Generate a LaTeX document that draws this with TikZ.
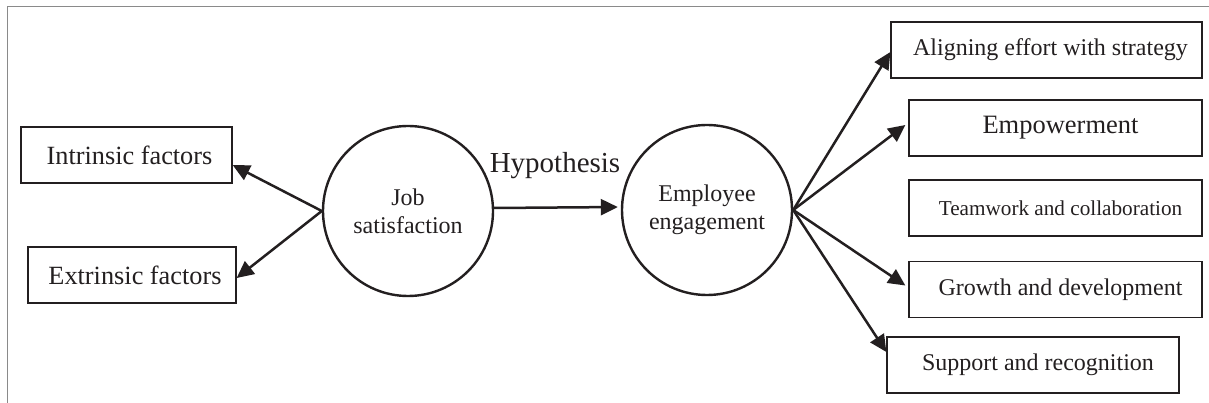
\documentclass[tikz,border=0pt]{standalone}
\usepackage{fontspec}
\setmainfont{Liberation Serif}
\usetikzlibrary{arrows.meta}
\definecolor{ink}{HTML}{231F20}
\definecolor{framegray}{HTML}{8A8A8A}
\tikzset{
  box/.style={draw=ink, line width=1.3pt, rectangle, inner sep=0pt, minimum height=56pt, text=ink, font=\fontsize{24}{28}\selectfont},
  circ/.style={draw=ink, line width=2.4pt, circle, inner sep=0pt, minimum size=170pt, align=center, text=ink, font=\fontsize{24}{28}\selectfont},
  arr/.style={draw=ink, line width=2.5pt, -{Triangle[length=17pt,width=16pt]}},
}
\begin{document}
\begin{tikzpicture}[x=1pt,y=-1pt]
\useasboundingbox (0,0) rectangle (1209,403);
\draw[framegray, line width=1pt] (7,403) -- (7,7) -- (1209,7);
% left boxes
\node[box, minimum width=211pt, font=\fontsize{26.3}{30}\selectfont] (intr) at (126.5,155) {\hspace*{6pt}Intrinsic factors};
\node[box, minimum width=208pt, font=\fontsize{26.3}{30}\selectfont] (extr) at (132,275) {\hspace*{6pt}Extrinsic factors};
% circles
\node[circ] (js) at (408,211) {Job\\satisfaction};
\node[circ] (ee) at (707,210) {Employee\\engagement};
\node[text=ink, font=\fontsize{29}{33}\selectfont, inner sep=0pt] (hyp) at (555,166) {Hypothesis};
% right boxes
\node[box, minimum width=311pt] (align) at (1046.5,50) {\hspace*{8pt}Aligning effort with strategy};
\node[box, minimum width=293pt, font=\fontsize{26.5}{30}\selectfont] (emp) at (1055.5,128) {\hspace*{10pt}Empowerment};
\node[box, minimum width=293pt, font=\fontsize{21.2}{25}\selectfont] (team) at (1055.5,208) {\hspace*{10pt}Teamwork and collaboration};
\node[box, minimum width=293pt] (grow) at (1055.5,289.5) {\hspace*{10pt}Growth and development};
\node[box, minimum width=292pt] (sup) at (1033,365) {\hspace*{10pt}Support and recognition};
% connectors
\draw[arr] (js.west) -- ([yshift=-10pt]intr.east);
\draw[arr] (js.west) -- ([yshift=-3pt]extr.east);
\draw[arr, shorten >=3pt] ([yshift=3pt]js.east) -- ([yshift=3pt]ee.west);
\draw[arr] (ee.east) -- ([yshift=-2pt]align.west);
\draw[arr] (ee.east) -- ([xshift=-3pt,yshift=3pt]emp.west);
\draw[arr] (ee.east) -- ([xshift=-3pt,yshift=4pt]grow.west);
\draw[arr] (ee.east) -- ([yshift=13pt]sup.west);
\end{tikzpicture}
\end{document}
